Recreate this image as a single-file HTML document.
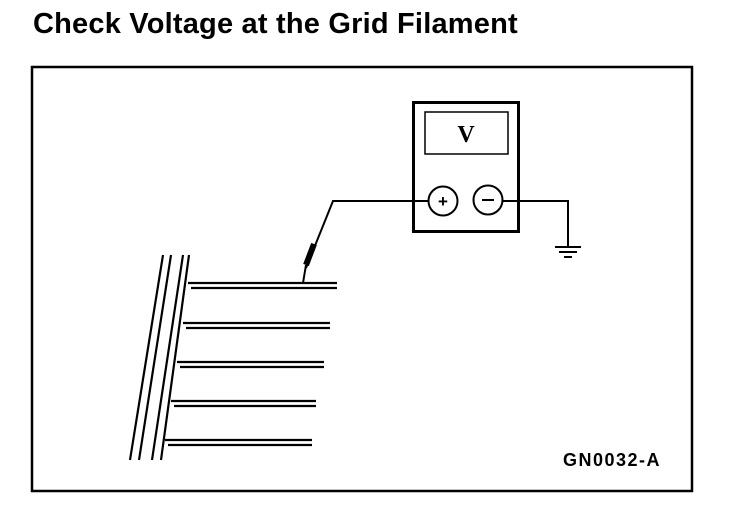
<!DOCTYPE html>
<html><head><style>
body{margin:0;background:#fff;width:736px;height:510px;overflow:hidden}
.t{position:absolute;left:33px;top:8px;font-family:"Liberation Sans",sans-serif;font-weight:bold;font-size:29px;letter-spacing:0.2px;color:#000;white-space:nowrap}
.l{position:absolute;left:563px;top:450px;font-family:"Liberation Sans",sans-serif;font-size:18px;font-weight:bold;letter-spacing:1.5px;color:#000}
</style></head><body>
<div class="t">Check Voltage at the Grid Filament</div>
<svg width="736" height="510" style="position:absolute;left:0;top:0" fill="none" stroke="#000">
<rect x="32" y="67" width="660" height="424" stroke-width="2.5"/>
<rect x="413.5" y="102.5" width="105" height="129" stroke-width="3"/>
<rect x="425" y="112" width="83" height="42" stroke-width="1.5"/>
<text x="466" y="142" font-family="Liberation Serif,serif" font-size="24" font-weight="bold" fill="#000" stroke="none" text-anchor="middle">V</text>
<circle cx="443" cy="201" r="14.5" stroke-width="2"/>
<circle cx="488" cy="200" r="14.5" stroke-width="2"/>
<text x="443" y="207" font-family="Liberation Sans,sans-serif" font-size="17" font-weight="bold" fill="#000" stroke="none" text-anchor="middle">+</text>
<line x1="482" y1="200" x2="494" y2="200" stroke-width="2"/>
<polyline points="502,201 568,201 568,246" stroke-width="2"/>
<line x1="555" y1="247" x2="581" y2="247" stroke-width="2"/>
<line x1="559" y1="252" x2="577" y2="252" stroke-width="2"/>
<line x1="564" y1="257" x2="572" y2="257" stroke-width="2"/>
<polyline points="428,201 333,201 306,268" stroke-width="2"/>
<line x1="314" y1="244" x2="306" y2="265" stroke-width="6"/>
<line x1="306" y1="265" x2="303" y2="283" stroke-width="2"/>
<g stroke-width="2.2">
<line x1="163" y1="255" x2="130" y2="460"/>
<line x1="171" y1="255" x2="139" y2="460"/>
<line x1="183" y1="255" x2="152" y2="460"/>
<line x1="189" y1="255" x2="161" y2="460"/>
<line x1="188" y1="283" x2="337" y2="283"/>
<line x1="191" y1="288" x2="337" y2="288"/>
<line x1="183" y1="323" x2="330" y2="323"/>
<line x1="186" y1="328" x2="330" y2="328"/>
<line x1="177" y1="362" x2="324" y2="362"/>
<line x1="180" y1="367" x2="324" y2="367"/>
<line x1="171" y1="401" x2="316" y2="401"/>
<line x1="174" y1="406" x2="316" y2="406"/>
<line x1="165" y1="440" x2="312" y2="440"/>
<line x1="168" y1="445" x2="312" y2="445"/>
</g>
</svg>
<div class="l">GN0032-A</div>
</body></html>
